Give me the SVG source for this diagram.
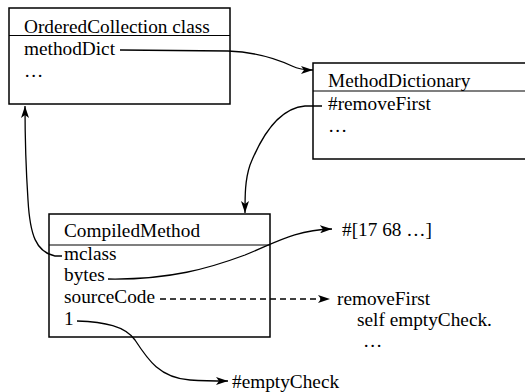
<svg xmlns="http://www.w3.org/2000/svg" width="525" height="392" viewBox="0 0 525 392">
<defs>
<style>
text{font-family:"Liberation Serif","Times New Roman",serif;font-size:19.3px;fill:#000}
.box{fill:#fff;stroke:#000;stroke-width:1.5}
.div{stroke:#000;stroke-width:1.2}
.c{fill:none;stroke:#000;stroke-width:1.3}
.d{stroke-dasharray:6,4}
</style>
<marker id="ah" viewBox="0 0 12 8" refX="12" refY="4" markerWidth="12" markerHeight="8" markerUnits="userSpaceOnUse" orient="auto">
<path d="M0,0 L12,4 L0,8 L3,4 z" fill="#000"/>
</marker>
</defs>
<rect width="525" height="392" fill="#fff"/>
<g id="node-orderedcollection">
<rect class="box" x="9" y="8" width="221" height="96"/>
<line class="div" x1="9" y1="35.5" x2="230" y2="35.5"/>
<text x="24" y="33">OrderedCollection class</text>
<text x="24" y="55">methodDict</text>
<text x="24" y="77">…</text>
</g>
<g id="node-methoddictionary">
<rect class="box" x="313" y="63" width="220" height="96"/>
<line class="div" x1="313" y1="91" x2="533" y2="91"/>
<text x="328" y="87">MethodDictionary</text>
<text x="328" y="110">#removeFirst</text>
<text x="328" y="132">…</text>
</g>
<g id="node-compiledmethod">
<rect class="box" x="49" y="214" width="221" height="123"/>
<line class="div" x1="49" y1="245" x2="270" y2="245"/>
<text x="64" y="237">CompiledMethod</text>
<text x="64" y="260">mclass</text>
<text x="64" y="281">bytes</text>
<text x="64" y="303">sourceCode</text>
<text x="64" y="325">1</text>
</g>
<g id="node-bytes-value"><text x="342" y="236">#[17 68 …]</text></g>
<g id="node-source"><text x="337" y="305">removeFirst</text><text x="357" y="326">self emptyCheck.</text><text x="363" y="347">…</text></g>
<g id="node-emptycheck"><text x="232" y="388">#emptyCheck</text></g>
<g id="connectors">
<path class="c" d="M120,50 L228,51 C255,52 275,58 292,66 C298,69 304,70 313,70" marker-end="url(#ah)"/>
<path class="c" d="M322,106 L305,106 C280,108 262,135 250,165 C245,180 245,195 245,213" marker-end="url(#ah)"/>
<path class="c" d="M62,256 L55,256 C36,252 30,235 28,200 C26,170 25,140 25,106" marker-end="url(#ah)"/>
<path class="c" d="M108,279 C170,280 210,268 245,255 C275,243 295,230 332,229" marker-end="url(#ah)"/>
<path class="c d" d="M160,299 L330,299" marker-end="url(#ah)"/>
<path class="c" d="M77,321 C105,322 125,326 135,340 C148,360 160,378 190,380 C205,381 215,381 228,381" marker-end="url(#ah)"/>
</g>
</svg>
